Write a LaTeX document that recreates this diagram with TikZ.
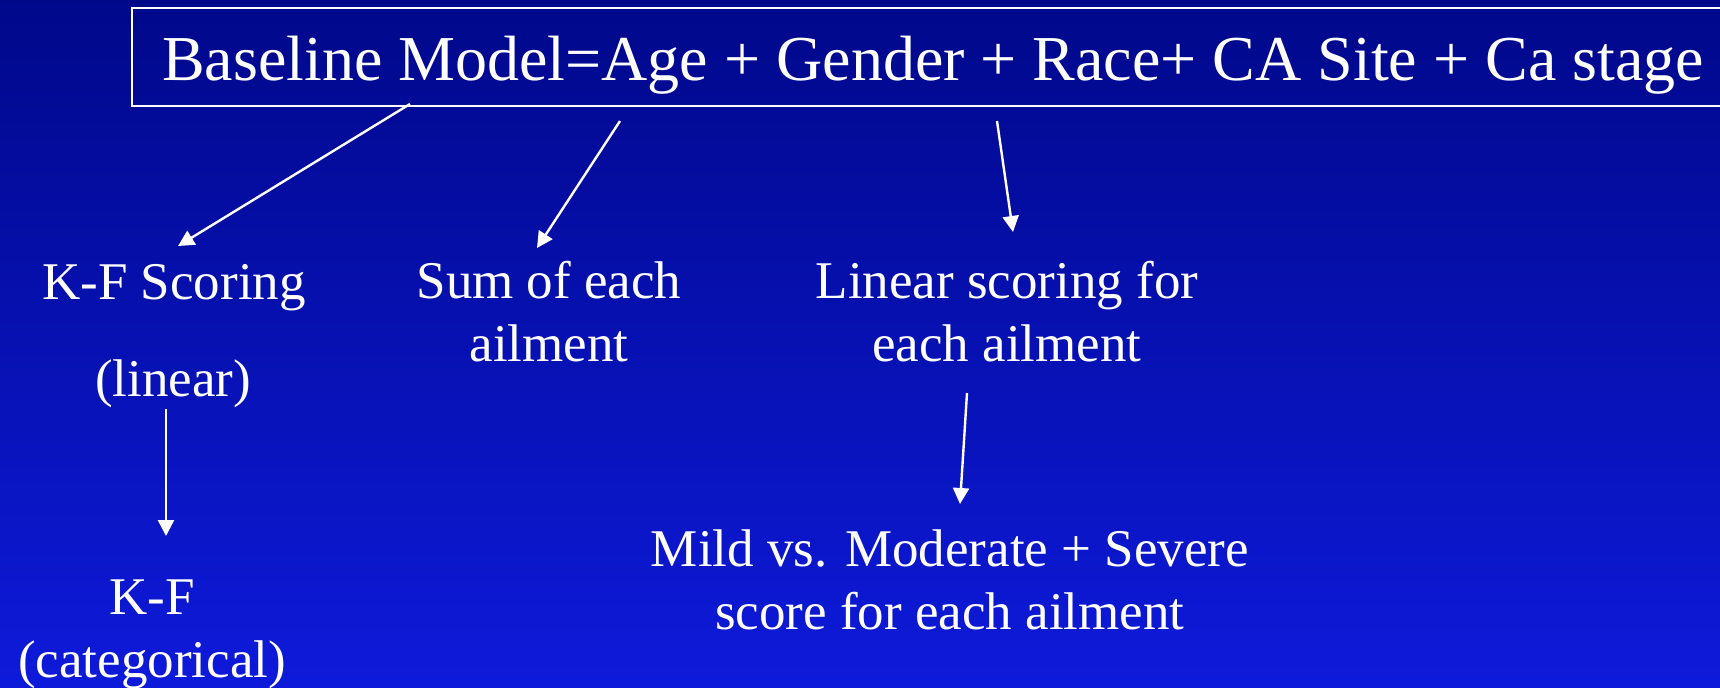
\documentclass[tikz,border=0pt]{standalone}
\usepackage{fontspec}
\setmainfont{Liberation Serif}
\usetikzlibrary{positioning}
\usetikzlibrary{arrows.meta}

\definecolor{bgtop}{RGB}{0,8,138}
\definecolor{bgbot}{RGB}{14,26,218}

\begin{document}
\begin{tikzpicture}[x=0.5pt, y=-0.5pt,
    every node/.style={text=white, inner sep=0pt, align=center, font=\fontsize{26.5}{31.5}\selectfont},
    arr/.style={draw=white, line width=1.2pt, -{Triangle[length=8pt, width=8pt]}}]

        % Background
        \useasboundingbox (0,0) rectangle (1720,687);
        \clip (0,0) rectangle (1720,687);
        \shade[top color=bgtop, bottom color=bgbot] (0,0) rectangle (1720,687);

        % Title box
        \node[draw=white, line width=1pt, minimum width=804pt, minimum height=49pt] (modelbox) at (936,57) {};
        \node[anchor=base, font=\fontsize{32}{38}\selectfont] (model) at (933,80) {Baseline Model=Age + Gender + Race+ CA Site + Ca stage};

        % Text blocks (base = last line)
        \node[anchor=base] (kfs) at (174,299) {K-F Scoring};
        \node[anchor=base] (kflin) at (173,396) {(linear)};
        \node[anchor=base] (sum) at (549,361) {Sum of each\\ailment};
        \node[anchor=base] (lin) at (1007,361) {Linear scoring for\\each ailment};
        \node[anchor=base] (mild) at (950,629) {Mild vs. Moderate + Severe\\score for each ailment};
        \node[anchor=base] (kfcat) at (152,677) {K-F\\(categorical)};

        % Arrow ends
        \coordinate (a1) at (410,104);
        \coordinate (b1) at (178,246);
        \coordinate (a2) at (620,121);
        \coordinate (b2) at (537,248);
        \coordinate (a3) at (997,121);
        \coordinate (b3) at (1013,232);
        \coordinate (a4) at (166,409);
        \coordinate (b4) at (166,536);
        \coordinate (a5) at (967,393);
        \coordinate (b5) at (960,504);

        % Draw the arrows
        \foreach \i in {1,...,5} {
          \draw[arr] (a\i) -- (b\i);
        }
      \end{tikzpicture}
\end{document}
